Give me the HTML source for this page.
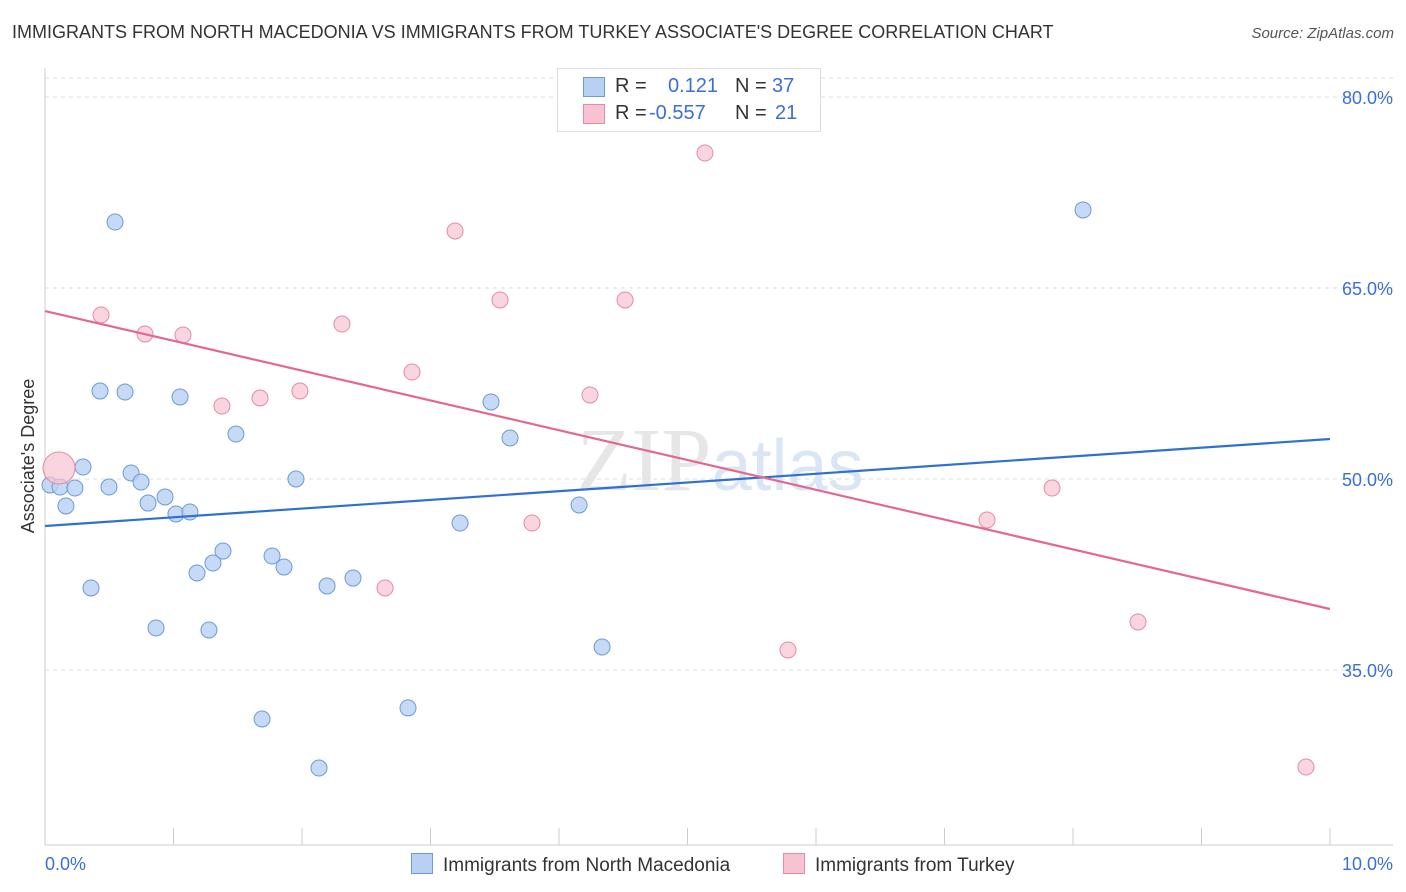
<!DOCTYPE html>
<html><head><meta charset="utf-8"><style>
body{margin:0;background:#fff;font-family:"Liberation Sans",sans-serif;}
#wrap{position:relative;width:1406px;height:892px;overflow:hidden;}
.t{position:absolute;white-space:nowrap;}
</style></head><body>
<div id="wrap">
<div class="t" style="left:12px;top:22px;font-size:18px;color:#333;">IMMIGRANTS FROM NORTH MACEDONIA VS IMMIGRANTS FROM TURKEY ASSOCIATE'S DEGREE CORRELATION CHART</div>
<div class="t" style="right:12px;top:25px;font-size:15px;color:#555;font-style:italic;">Source: ZipAtlas.com</div>
<svg id="svg" width="1406" height="892" style="position:absolute;left:0;top:0"></svg>
</div>
<script>
const blueX=[0.545,0.428,0.623,1.051,1.486,0.296,0.039,0.117,0.233,0.498,0.67,0.747,0.802,0.934,0.163,1.019,1.128,1.385,1.307,1.183,0.358,0.864,1.276,1.767,1.86,1.953,2.195,2.397,1.689,2.132,2.825,3.471,3.619,3.23,4.156,4.335,8.078];
const blueY=[70.18,56.91,56.83,56.44,53.53,50.94,49.53,49.37,49.29,49.37,50.47,49.76,48.11,48.59,47.88,47.25,47.41,44.34,43.4,42.62,41.44,38.3,38.14,43.95,43.09,50.0,41.6,42.22,31.15,27.3,32.02,56.05,53.22,46.54,47.96,36.81,71.13];
const pinkX=[0.109,0.436,0.778,1.074,1.377,1.673,1.984,2.311,2.856,3.191,3.541,3.79,2.646,4.241,4.514,5.136,5.782,7.331,7.837,8.506,9.813];
const pinkY=[50.86,62.88,61.39,61.31,55.73,56.36,56.91,62.17,58.4,69.48,64.06,46.54,41.44,56.6,64.06,75.6,36.57,46.78,49.29,38.77,27.38];
const blueTrend=[46.31,53.14];
const pinkTrend=[63.19,39.79];
const yTicks=[80,65,50,35];
const xTickLabels=["0.0%","10.0%"];
const X=v=>45+v*128.5, Y=v=>97+(80-v)*12.733;
const svg=document.getElementById('svg');
const NS='http://www.w3.org/2000/svg';
function mk(tag,attrs,name){const e=document.createElementNS(NS,tag);for(const k in attrs)e.setAttribute(k,attrs[k]);


svg.appendChild(e);return e;}
mk('line',{x1:45,x2:1393,y1:78,y2:78,stroke:'#ddd','stroke-dasharray':'4,4'},'grid-top');
yTicks.forEach(v=>{mk('line',{x1:45,x2:1393,y1:Y(v),y2:Y(v),stroke:'#ddd','stroke-dasharray':'4,4'},'grid-line');
const t=mk('text',{x:1393,y:Y(v)+7,'text-anchor':'end','font-size':18,fill:'#3a6fd8','font-family':'Liberation Sans'},'y-tick-label');t.textContent=v.toFixed(1)+'%';});
mk('line',{x1:45,x2:45,y1:68,y2:845,stroke:'#ccc'},'y-axis');
mk('line',{x1:45,x2:1393,y1:845,y2:845,stroke:'#ccc'},'x-axis');
for(let k=0;k<=10;k++){mk('line',{x1:X(k),x2:X(k),y1:828,y2:845,stroke:'#ccc'},'x-tick');}
const wm=mk('text',{x:720,y:490,'text-anchor':'middle','font-size':90,fill:'#e6e6e6','font-family':'Liberation Serif'},'watermark');wm.innerHTML='ZIP<tspan fill="#dbe6f5" font-family="Liberation Sans" font-size="72">atlas</tspan>';
blueX.forEach((x,i)=>mk('circle',{cx:X(x),cy:Y(blueY[i]),r:8,fill:'#b8d0f2','fill-opacity':0.8,stroke:'#6c9ad8','stroke-width':1},'blue-point'));
pinkX.forEach((x,i)=>mk('circle',{cx:X(x),cy:Y(pinkY[i]),r:i==0?16:8,fill:'#f7c3d2','fill-opacity':0.7,stroke:'#e68aa6','stroke-width':1},'pink-point'));
mk('line',{x1:X(0),x2:X(10),y1:Y(blueTrend[0]),y2:Y(blueTrend[1]),stroke:'#2f6fd6','stroke-width':2.2},'blue-trend-line');
mk('line',{x1:X(0),x2:X(10),y1:Y(pinkTrend[0]),y2:Y(pinkTrend[1]),stroke:'#e5678f','stroke-width':2.2},'pink-trend-line');
const xl=mk('text',{x:45,y:870,'font-size':18,fill:'#3a6fd8','font-family':'Liberation Sans'},'x-min-label');xl.textContent=xTickLabels[0];
const xr=mk('text',{x:1393,y:870,'text-anchor':'end','font-size':18,fill:'#3a6fd8','font-family':'Liberation Sans'},'x-max-label');xr.textContent=xTickLabels[1];
const yt=mk('text',{x:34,y:456,transform:'rotate(-90 34 456)','text-anchor':'middle','font-size':18,fill:'#333','font-family':'Liberation Sans'},'y-axis-title');yt.textContent="Associate's Degree";
</script>
<div class="t" style="left:557px;top:68px;width:262px;height:62px;border:1px solid #ddd;background:#fff;font-size:20px;">
 <div style="position:absolute;left:25px;top:8px;width:20px;height:18px;background:#b8d0f2;border:1px solid #6c9ad8"></div>
 <div class="t" style="left:57px;top:6px;color:#333">R =</div><div class="t" style="left:110px;top:6px;color:#3a6fd8">0.121</div>
 <div class="t" style="left:177px;top:6px;color:#333">N =</div><div class="t" style="left:214px;top:6px;color:#3a6fd8">37</div>
 <div style="position:absolute;left:25px;top:35px;width:20px;height:18px;background:#f7c3d2;border:1px solid #e68aa6"></div>
 <div class="t" style="left:57px;top:33px;color:#333">R =</div><div class="t" style="left:91px;top:33px;color:#3a6fd8">-0.557</div>
 <div class="t" style="left:177px;top:33px;color:#333">N =</div><div class="t" style="left:217px;top:33px;color:#3a6fd8">21</div>
</div>
<div class="t" style="left:411px;top:853px;font-size:19px;color:#333"><span style="display:inline-block;width:20px;height:19px;background:#b8d0f2;border:1px solid #6c9ad8;vertical-align:-3px;margin-right:10px"></span>Immigrants from North Macedonia</div>
<div class="t" style="left:783px;top:853px;font-size:19px;color:#333"><span style="display:inline-block;width:20px;height:19px;background:#f7c3d2;border:1px solid #e68aa6;vertical-align:-3px;margin-right:10px"></span>Immigrants from Turkey</div>
</body></html>
